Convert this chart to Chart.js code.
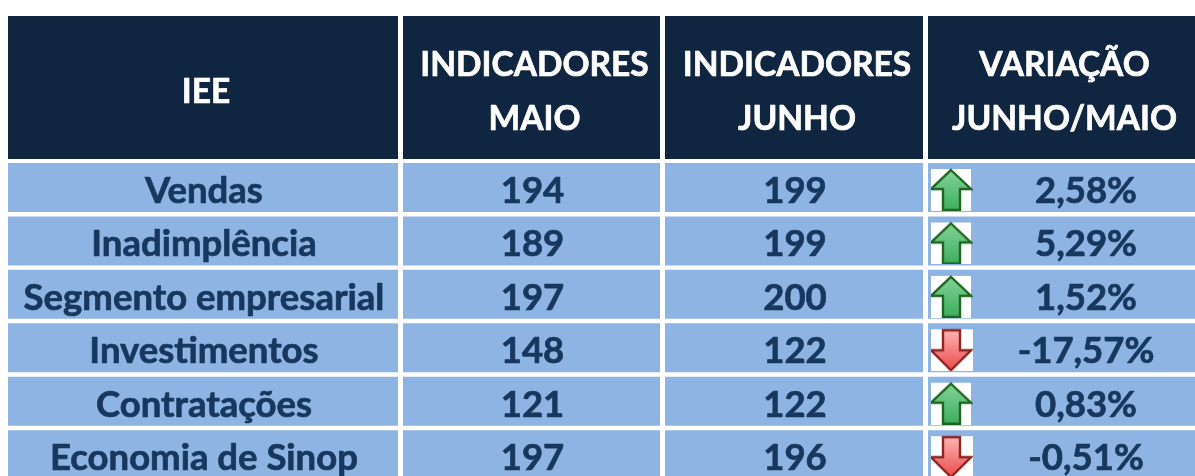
<!DOCTYPE html>
<html>
<head>
<meta charset="utf-8">
<title>IEE</title>
<script src="https://cdn.jsdelivr.net/npm/chart.js@4"></script>
<style>
html, body { margin: 0; padding: 0; background: #fff; overflow: hidden; }
canvas { display: block; }
</style>
</head>
<body>
<canvas id="myChart" width="1195" height="476"></canvas>
<script>
// table data //
var cabecalho = [['IEE'], ['INDICADORES', 'MAIO'], ['INDICADORES', 'JUNHO'], ['VARIAÇÃO', 'JUNHO/MAIO']];
var categorias = ['Vendas', 'Inadimplência', 'Segmento empresarial', 'Investimentos', 'Contratações', 'Economia de Sinop'];
var maio = [194, 189, 197, 148, 121, 197];
var junho = [199, 199, 200, 122, 122, 196];
var variacao = [2.58, 5.29, 1.52, -17.57, 0.83, -0.51];

// layout //
var colEsq = [8, 403, 665, 928];
var colDir = [398, 660, 923, 1195];
var linhaCabecalho = -1.87;
var fonteCabecalho = 'bold 33.5px Lato';
var fonteLinha = 'bold 36.5px Lato';
var corCabecalho = '#10253F';
var corLinha = '#8DB4E2';
var corTexto = '#17375E';

function fmt(v) {
    return v.toFixed(2).replace('.', ',') + '%';
}

function seta(sobe) {
    var c = document.createElement('canvas');
    c.width = 42;
    c.height = 47;
    var g = c.getContext('2d');
    g.translate(0, 5);
    g.fillStyle = '#fff';
    g.fillRect(0, 0, sobe ? 40 : 42, 42);
    var grad = g.createLinearGradient(0, 0, 0, 42);
    if (sobe) {
        grad.addColorStop(0, '#86d398');
        grad.addColorStop(1, '#3cae5e');
    } else {
        grad.addColorStop(0, '#ffb8b8');
        grad.addColorStop(1, '#e94848');
    }
    g.beginPath();
    if (sobe) {
        g.moveTo(20, 1);
        g.lineTo(40, 20);
        g.lineTo(29, 20);
        g.lineTo(29, 41);
        g.lineTo(12, 41);
        g.lineTo(12, 20);
        g.lineTo(0, 20);
    } else {
        g.moveTo(20, 41);
        g.lineTo(40, 21);
        g.lineTo(29, 21);
        g.lineTo(29, 1);
        g.lineTo(12, 1);
        g.lineTo(12, 21);
        g.lineTo(0, 21);
    }
    g.closePath();
    g.fillStyle = grad;
    g.fill();
    g.lineWidth = 2.4;
    g.lineJoin = 'miter';
    g.strokeStyle = sobe ? '#1f661f' : '#8f2420';
    g.stroke();
    return c;
}

var setaSobe = seta(true);
var setaDesce = seta(false);

// one dataset per column, header bar plus the six rows //
var datasets = [];
colEsq.forEach(function(esq, c) {
    datasets.push({
        label: 'cabecalho' + c,
        data: [{ x: [esq, colDir[c]], y: linhaCabecalho }],
        backgroundColor: corCabecalho,
        barThickness: 143,
        inflateAmount: 0,
        grouped: false
    });
    datasets.push({
        label: 'coluna' + c,
        data: categorias.map(function(n, i) {
            return { x: [esq, colDir[c]], y: i };
        }),
        backgroundColor: corLinha,
        barThickness: 49,
        inflateAmount: 0,
        grouped: false
    });
});
datasets.unshift({
    type: 'scatter',
    label: 'setas',
    data: variacao.map(function(v, i) {
        return { x: 952, y: i };
    }),
    pointStyle: variacao.map(function(v) {
        return v >= 0 ? setaSobe : setaDesce;
    }),
    order: -1
});

function escreve(ctx, t, x, y) {
    ctx.strokeText(t, x, y);
    ctx.fillText(t, x, y);
}

// cell text //
var textoTabela = {
    id: 'textoTabela',
    afterDatasetsDraw: function(chart) {
        var ctx = chart.ctx;
        var x = chart.scales.x;
        var y = chart.scales.y;
        ctx.save();
        ctx.font = fonteCabecalho;
        ctx.textAlign = 'center';
        ctx.textBaseline = 'alphabetic';
        ctx.lineJoin = 'round';
        ctx.lineWidth = 0.7;
        ctx.fillStyle = '#fff';
        ctx.strokeStyle = '#fff';
        cabecalho.forEach(function(linhas, c) {
            var cx = x.getPixelForValue((colEsq[c] + colDir[c]) / 2 + 3);
            var cy = y.getPixelForValue(linhaCabecalho);
            linhas.forEach(function(t, l) {
                var dy = (l - (linhas.length - 1) / 2) * 54;
                escreve(ctx, t, cx, cy + dy + 15);
            });
        });
        ctx.font = fonteLinha;
        ctx.fillStyle = corTexto;
        ctx.strokeStyle = corTexto;
        categorias.forEach(function(nome, i) {
            var cy = y.getPixelForValue(i) + 15.5;
            var linha = [nome, maio[i], junho[i]];
            linha.forEach(function(t, c) {
                escreve(ctx, t, x.getPixelForValue((colEsq[c] + colDir[c]) / 2 + 1), cy);
            });
            escreve(ctx, fmt(variacao[i]), x.getPixelForValue(1086), cy);
        });
        ctx.restore();
    }
};

var ctx = document.getElementById('myChart').getContext('2d');
var tabela = new Chart(ctx, {
    type: 'bar',
    data: { datasets: datasets },
    options: {
        indexAxis: 'y',
        responsive: false,
        animation: false,
        layout: { padding: 0, autoPadding: false },
        plugins: {
            legend: { display: false },
            tooltip: { enabled: false }
        },
        scales: {
            x: { type: 'linear', min: 0, max: 1195, display: false },
            y: { type: 'linear', min: -3.51, max: 5.4, reverse: true, offset: false, display: false }
        }
    },
    plugins: [textoTabela]
});
</script>
</body>
</html>
